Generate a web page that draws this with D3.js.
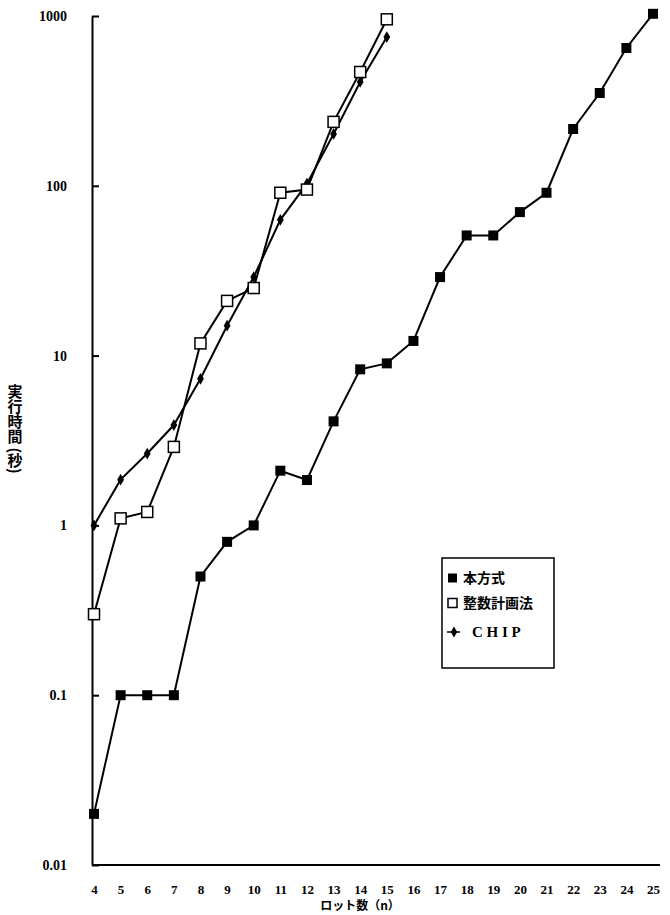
<!DOCTYPE html>
<html>
<head>
<meta charset="utf-8">
<script src="https://cdn.jsdelivr.net/npm/d3@7/dist/d3.min.js"></script>
<style>
body { margin: 0; background: #fff; }
.tick text { font-family: "Liberation Serif", "DejaVu Serif", serif; font-weight: bold; font-size: 14px; fill: #000; }
.x-axis .tick text { font-size: 13px; }
</style>
</head>
<body>
<script>
// ロット数 n
var lots = [4, 5, 6, 7, 8, 9, 10, 11, 12, 13, 14, 15, 16, 17, 18, 19, 20, 21, 22, 23, 24, 25];
var lotsShort = [4, 5, 6, 7, 8, 9, 10, 11, 12, 13, 14, 15];

// 実行時間 (秒)
var honHoushiki = [0.02, 0.1, 0.1, 0.1, 0.5, 0.8, 1.0, 2.1, 1.85, 4.1, 8.3, 9.0, 12.2, 29, 51, 51, 70, 91, 216, 352, 648, 1030];
var seisuKeikaku = [0.3, 1.1, 1.2, 2.9, 11.8, 21, 25, 91, 95, 238, 468, 956];
var chip = [1.0, 1.86, 2.65, 3.9, 7.3, 15, 29, 63, 103, 202, 409, 752];

var yTicks = [0.01, 0.1, 1, 10, 100, 1000];
var yTickLabels = ["0.01", "0.1", "1", "10", "100", "1000"];
var legendNames = ["本方式", "整数計画法", "C H I P"];

var width = 670, height = 915;

var x = d3.scaleLinear().domain([4, 25]).range([94, 653]);
var y = d3.scaleLog().domain([0.01, 1000]).range([865, 16]);

var svg = d3.select("body").append("svg")
	.attr("width", width)
	.attr("height", height);

// axes
svg.append("g")
	.attr("transform", "translate(92,0)")
	.call(d3.axisLeft(y)
		.tickValues(yTicks)
		.tickSize(-7)
		.tickSizeOuter(0)
		.tickPadding(25)
		.tickFormat(function (d, i) { return yTickLabels[i]; }))
	.call(function (g) { g.selectAll("line, path").attr("stroke", "#000").attr("stroke-width", 2); });

var xAxis = svg.append("g")
	.attr("class", "x-axis")
	.attr("transform", "translate(0,865)")
	.call(d3.axisBottom(x)
		.tickValues(lots)
		.tickSize(0)
		.tickPadding(20));
xAxis.select(".domain").remove();

svg.append("line")
	.attr("x1", 92).attr("x2", x(25) + 7)
	.attr("y1", 865).attr("y2", 865)
	.attr("stroke", "#000").attr("stroke-width", 2);

// axis titles
svg.append("text")
	.attr("x", 15).attr("y", 384)
	.attr("writing-mode", "vertical-rl")
	.attr("font-family", "Noto Sans CJK JP")
	.attr("font-weight", "bold")
	.attr("font-size", 15)
	.text("実行時間 (秒)");

svg.append("text")
	.attr("x", 360).attr("y", 910)
	.attr("text-anchor", "middle")
	.attr("font-family", "Noto Sans CJK JP")
	.attr("font-weight", "bold")
	.attr("font-size", 12)
	.text("ロット数（n）");

var line = d3.line()
	.x(function (d) { return x(d[0]); })
	.y(function (d) { return y(d[1]); });

var honData = d3.zip(lots, honHoushiki);
var seiData = d3.zip(lotsShort, seisuKeikaku);
var chipData = d3.zip(lotsShort, chip);

[honData, seiData, chipData].forEach(function (data) {
	svg.append("path")
		.datum(data)
		.attr("fill", "none")
		.attr("stroke", "#000")
		.attr("stroke-width", 2)
		.attr("d", line);
});

var diamond = d3.symbol().type(d3.symbolDiamond).size(40);

svg.append("g").selectAll("path")
	.data(chipData)
	.enter().append("path")
	.attr("transform", function (d) { return "translate(" + x(d[0]) + "," + y(d[1]) + ")"; })
	.attr("d", diamond)
	.attr("fill", "#000");

svg.append("g").selectAll("rect")
	.data(honData)
	.enter().append("rect")
	.attr("x", function (d) { return x(d[0]) - 5; })
	.attr("y", function (d) { return y(d[1]) - 5; })
	.attr("width", 10).attr("height", 10)
	.attr("fill", "#000");

svg.append("g").selectAll("rect")
	.data(seiData)
	.enter().append("rect")
	.attr("x", function (d) { return x(d[0]) - 5.5; })
	.attr("y", function (d) { return y(d[1]) - 5.5; })
	.attr("width", 11).attr("height", 11)
	.attr("fill", "#fff")
	.attr("stroke", "#000")
	.attr("stroke-width", 1.5);

// legend
var legend = svg.append("g").attr("transform", "translate(442,558)");
legend.append("rect")
	.attr("width", 112).attr("height", 110)
	.attr("fill", "#fff")
	.attr("stroke", "#000")
	.attr("stroke-width", 1.5);

var rows = [20, 45, 74];
legend.append("rect").attr("x", 6).attr("y", rows[0] - 4.5).attr("width", 9).attr("height", 9).attr("fill", "#000");
legend.append("rect").attr("x", 6).attr("y", rows[1] - 4.5).attr("width", 9).attr("height", 9)
	.attr("fill", "#fff").attr("stroke", "#000").attr("stroke-width", 1.5);
legend.append("line").attr("x1", 5).attr("x2", 18).attr("y1", rows[2]).attr("y2", rows[2])
	.attr("stroke", "#000").attr("stroke-width", 1.5);
legend.append("path").attr("transform", "translate(12," + rows[2] + ")")
	.attr("d", d3.symbol().type(d3.symbolDiamond).size(36)).attr("fill", "#000");

legend.selectAll("text.item")
	.data(legendNames)
	.enter().append("text")
	.attr("class", "item")
	.attr("x", function (d, i) { return i === 2 ? 30 : 21; })
	.attr("y", function (d, i) { return rows[i]; })
	.attr("dy", "0.35em")
	.attr("font-family", function (d, i) { return i === 2 ? "Liberation Serif" : "Noto Sans CJK JP"; })
	.attr("font-weight", "bold")
	.attr("font-size", function (d, i) { return i === 2 ? 15 : 14; })
	.attr("xml:space", "preserve")
	.text(function (d) { return d; });
</script>
</body>
</html>
